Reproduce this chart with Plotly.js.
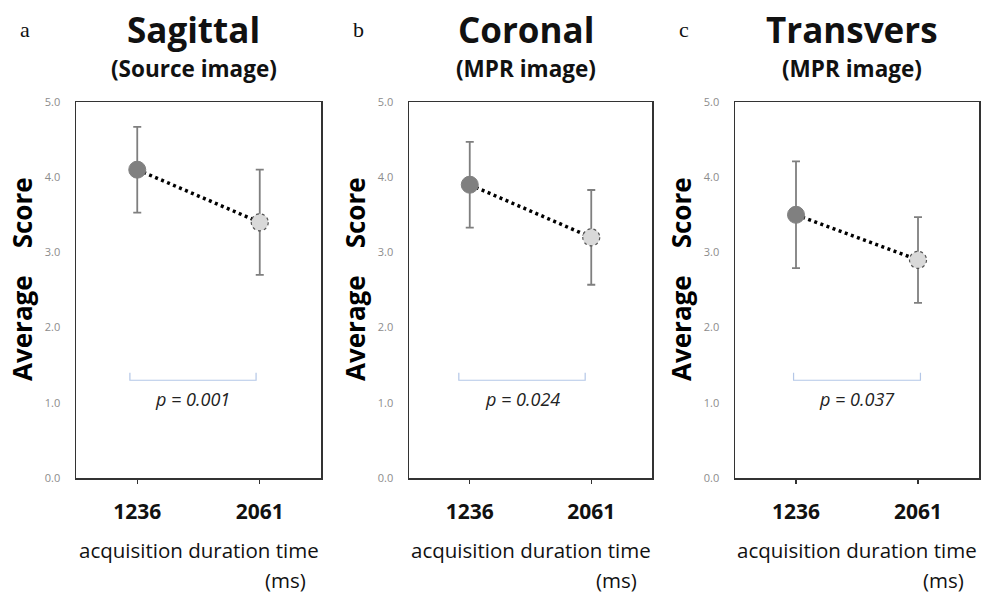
<!DOCTYPE html>
<html><head><meta charset="utf-8">
<script src="https://cdn.plot.ly/plotly-3.0.1.min.js"></script>
<style>html,body{margin:0;padding:0;background:#fff}#plot{width:981px;height:594px}</style>
</head><body><div id="plot"></div>
<script>
// ---- data ----
const categories = ["1236", "2061"];
const panelLetters = ["a", "b", "c"];
const panelTitles = ["Sagittal", "Coronal", "Transvers"];
const panelSubtitles = ["(Source image)", "(MPR image)", "(MPR image)"];
const meansSagittal = [4.1, 3.4];
const errSagittal = [0.57, 0.70];
const meansCoronal = [3.9, 3.2];
const errCoronal = [0.57, 0.63];
const meansTransvers = [3.5, 2.9];
const errTransvers = [0.71, 0.57];
const pValues = ["0.001", "0.024", "0.037"];
const yTickVals = [0, 1, 2, 3, 4, 5];
const bracketStart = [-0.06, -0.09, -0.02];
const bracketEnd = [0.97, 0.95, 1.02];
const bracketLevel = 1.3;
const bracketTip = 1.4;
const pLabelLevel = 1.05;

const means = [meansSagittal, meansCoronal, meansTransvers];
const errs = [errSagittal, errCoronal, errTransvers];
const catIdx = categories.map((c, k) => k);

// ---- layout geometry (pixels) ----
const W = 981, H = 594;
const boxes = [[76, 321], [409, 652], [735, 979]];
const yTop = 102, yBot = 478;
const fontMain = "Open Sans, Noto Sans, sans-serif";

const traces = [];
const shapes = [];
const annotations = [];
const layout = {
  width: W, height: H,
  margin: {l: 0, r: 0, t: 0, b: 0},
  paper_bgcolor: "#fff", plot_bgcolor: "#fff",
  showlegend: false,
  font: {family: fontMain, color: "#000"}
};

function ann(o) {
  return Object.assign({xref: "paper", yref: "paper", showarrow: false,
    xanchor: "center", yanchor: "middle"}, o);
}

for (let i = 0; i < 3; i++) {
  const sfx = i === 0 ? "" : String(i + 1);
  const xa = "x" + sfx, ya = "y" + sfx;
  const [L, R] = boxes[i];
  layout["xaxis" + sfx] = {
    domain: [L / W, R / W], anchor: ya, type: "linear",
    range: [-0.5, 1.5], tickvals: catIdx, ticktext: categories,
    showgrid: false, zeroline: false,
    showline: true, linecolor: "#333", linewidth: 1.5, mirror: true,
    ticks: "outside", ticklen: 4, tickwidth: 1.2, tickcolor: "#333",
    tickfont: {family: fontMain, size: 21, color: "#111", weight: "bold"},
    ticklabelstandoff: 10,
    fixedrange: true
  };
  layout["yaxis" + sfx] = {
    domain: [(H - yBot) / H, (H - yTop) / H], anchor: xa,
    range: [0, 5], tickvals: yTickVals, tickformat: ".1f",
    showgrid: false, zeroline: false,
    showline: true, linecolor: "#333", linewidth: 1.5, mirror: true,
    ticks: "", tickfont: {family: fontMain, size: 11, color: "#8c8c8c"},
    ticklabelstandoff: 12, fixedrange: true
  };

  // significance bracket
  traces.push({
    x: [bracketStart[i], bracketStart[i], bracketEnd[i], bracketEnd[i]],
    y: [bracketTip, bracketLevel, bracketLevel, bracketTip],
    xaxis: xa, yaxis: ya, type: "scatter", mode: "lines",
    line: {color: "#b4c7e7", width: 1.2}, hoverinfo: "skip"
  });
  // connecting dotted line
  traces.push({
    x: catIdx, y: means[i], xaxis: xa, yaxis: ya, type: "scatter",
    mode: "lines", line: {color: "#000", width: 3.5, dash: "3px,3.5px"},
    hoverinfo: "skip"
  });
  // error bars + markers
  traces.push({
    x: catIdx, y: means[i], xaxis: xa, yaxis: ya, type: "scatter",
    mode: "markers",
    error_y: {type: "data", array: errs[i], visible: true, color: "#7f7f7f", thickness: 1.8, width: 4},
    marker: {size: 17, color: ["#808080", "#d9d9d9"], line: {color: ["#808080", "rgba(0,0,0,0)"], width: 1}}
  });
  // dotted outline around second marker, anchored at data point
  shapes.push({
    type: "circle", xref: xa, yref: ya, xsizemode: "pixel", ysizemode: "pixel",
    xanchor: catIdx[1], yanchor: means[i][1], x0: -8.5, x1: 8.5, y0: -8.5, y1: 8.5,
    line: {color: "#555", width: 1.2, dash: "dot"}, layer: "above"
  });
  annotations.push(ann({
    xref: xa, yref: ya, x: (bracketStart[i] + bracketEnd[i]) / 2, y: pLabelLevel,
    text: "<i>p = " + pValues[i] + "</i>",
    font: {family: fontMain, size: 18, color: "#222"}
  }));

  const cx = (L + R) / 2;
  // titles
  annotations.push(ann({
    x: (cx - 5) / W, y: (H - 30) / H,
    text: "<b>" + panelTitles[i] + "</b>",
    font: {family: fontMain, size: 35, color: "#111"}
  }));
  annotations.push(ann({
    x: (cx - 5) / W, y: (H - 68) / H,
    text: "<b>" + panelSubtitles[i] + "</b>",
    font: {family: fontMain, size: 22.5, color: "#111"}
  }));
  // panel letters
  annotations.push(ann({
    x: (L - 51) / W, y: (H - 29) / H,
    text: panelLetters[i],
    font: {family: "Liberation Serif, DejaVu Serif, serif", size: 22, color: "#111"}
  }));
  // y axis title
  annotations.push(ann({
    x: (L - 54) / W, y: (H - 279) / H,
    text: "<b>Average\u00a0\u00a0\u00a0\u00a0Score</b>", textangle: -90,
    font: {family: fontMain, size: 26, color: "#000"}
  }));
  // x axis title
  annotations.push(ann({
    x: cx / W, y: (H - 550) / H,
    text: "acquisition duration time",
    font: {family: fontMain, size: 20.5, color: "#111"}
  }));
  annotations.push(ann({
    x: (R - 13) / W, xanchor: "right", y: (H - 580) / H,
    text: "(ms)",
    font: {family: fontMain, size: 20.5, color: "#111"}
  }));
}
layout.shapes = shapes;
layout.annotations = annotations;

Plotly.newPlot("plot", traces, layout, {displayModeBar: false, staticPlot: true});
</script>
</body></html>
